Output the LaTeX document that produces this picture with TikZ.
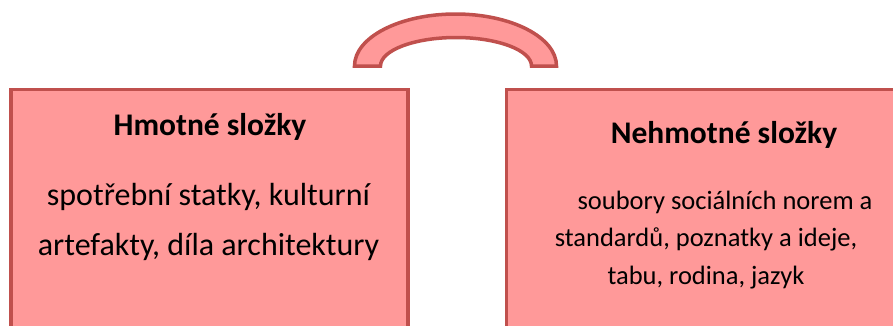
\documentclass[tikz,border=0pt]{standalone}
\usepackage{fontspec}
\setmainfont{Carlito}
\definecolor{boxfill}{RGB}{255,153,153}
\definecolor{boxline}{RGB}{192,80,77}

\begin{document}
\begin{tikzpicture}[x=1pt,y=-1pt,
  part/.style={draw=boxline,fill=boxfill,line width=3.5pt},
  heading/.style={font=\fontsize{31.5}{38}\selectfont\bfseries,anchor=base,inner sep=0pt},
  listl/.style={font=\fontsize{32}{50}\selectfont,align=center,anchor=base,inner sep=0pt},
  listr/.style={font=\fontsize{26.5}{37.5}\selectfont,align=center,anchor=base,inner sep=0pt}]
\useasboundingbox (0,0) rectangle (893,325);
\clip (0,0) rectangle (893,325);

% bridge over the two parts
\draw[part] (354.5,66) arc[start angle=180,end angle=360,x radius=101,y radius=52]
  -- (531.5,66) arc[start angle=360,end angle=180,x radius=75.5,y radius=28.5] -- cycle;

% the two boxes, running off the page
\draw[part] (11,89.5) rectangle (408,345);
\draw[part] (506.5,89.5) rectangle (905,345);

% left box (base of a list node = its last line)
\node[heading] (hmot) at (210,135) {Hmotné složky};
\node[listl] (hmotlist) at (208.5,255) {spotřební statky, kulturní\\artefakty, díla architektury};

% right box
\node[heading] (nehmot) at (724,143) {Nehmotné složky};
\node[listr] (nehmotlist) at (706,284) {\hspace*{38pt}soubory sociálních norem a\\standardů, poznatky a ideje,\\tabu, rodina, jazyk};
\end{tikzpicture}
\end{document}
